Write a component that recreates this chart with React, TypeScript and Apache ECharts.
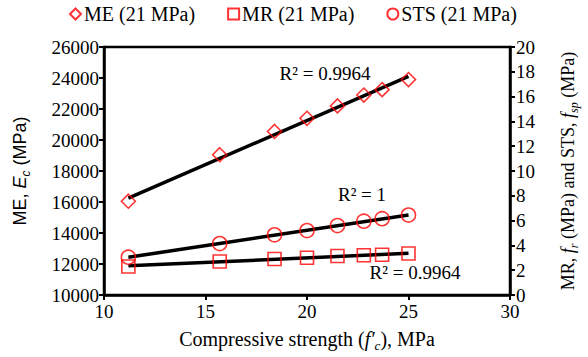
import React, { useEffect, useRef } from "react";
import * as echarts from "echarts";

const fc = [11.2, 15.7, 18.4, 20.0, 21.5, 22.8, 23.7, 25.0];
const me = [16050, 19050, 20550, 21400, 22200, 22900, 23250, 23900];
const mr = [2.3, 2.7, 2.9, 3.0, 3.15, 3.2, 3.25, 3.35];
const sts = [3.05, 4.15, 4.85, 5.2, 5.6, 5.95, 6.15, 6.45];

const trendX = [11.2, 25.0];
const meTrend = [16250, 24100];
const mrTrend = [2.35, 3.36];
const stsTrend = [3.04, 6.45];

const seriesNames = ["ME (21 MPa)", "MR (21 MPa)", "STS (21 MPa)"];
const r2Labels = ["R² = 0.9964", "R² = 1", "R² = 0.9964"];

const SERIF = "Liberation Serif";
const SANS = "Liberation Sans";

export default function App() {
  const ref = useRef<HTMLDivElement>(null);
  useEffect(() => {
    if (!ref.current) return;
    const chart = echarts.init(ref.current, undefined, { renderer: "svg" });
    const markerStyle = {
      color: "rgba(255,255,255,0)",
      borderColor: "#ff0000",
      borderWidth: 1.6,
    };
    const axisCommon = {
      axisLine: { show: true, lineStyle: { color: "#000", width: 2.5 } },
      axisTick: { show: true, length: 5, lineStyle: { color: "#000", width: 2 } },
      splitLine: { show: false },
      axisLabel: {
        color: "#000",
        fontFamily: SERIF,
        fontSize: 19,
        formatter: (v: number) => String(v),
      },
    };
    chart.setOption({
      animation: false,
      backgroundColor: "#fff",
      grid: {
        left: 100,
        right: 68,
        top: 47,
        bottom: 62,
        show: true,
        borderColor: "#000",
        borderWidth: 2.5,
        backgroundColor: "transparent",
      },
      legend: {
        data: seriesNames,
        left: 69,
        top: 4,
        padding: 0,
        itemGap: 32,
        itemWidth: 11,
        itemHeight: 11,
        textStyle: { color: "#000", fontFamily: SERIF, fontSize: 20, padding: [0, 0, 0, -2] },
      },
      xAxis: {
        type: "value",
        min: 10,
        max: 30,
        interval: 5,
        ...axisCommon,
        axisLabel: { ...axisCommon.axisLabel, margin: 7 },
        name: "Compressive strength ({i|f′}{sub|c}), MPa",
        nameLocation: "middle",
        nameGap: 23,
        nameTextStyle: {
          color: "#000",
          fontFamily: SERIF,
          fontSize: 20,
          lineHeight: 26,
          verticalAlign: "top",
          rich: {
            i: { fontFamily: SERIF, fontStyle: "italic", fontSize: 20, lineHeight: 26 },
            sub: { fontFamily: SERIF, fontStyle: "italic", fontSize: 13, lineHeight: 15, verticalAlign: "bottom" },
          },
        },
      },
      yAxis: [
        {
          type: "value",
          min: 10000,
          max: 26000,
          interval: 2000,
          ...axisCommon,
          axisLabel: { ...axisCommon.axisLabel, margin: 5 },
          name: "ME, {i|E}{sub|c} (MPa)",
          nameLocation: "middle",
          nameGap: 72,
          nameTextStyle: {
            color: "#000",
            fontFamily: SANS,
            fontSize: 18,
            lineHeight: 24,
            rich: {
              i: { fontFamily: SANS, fontStyle: "italic", fontSize: 18, lineHeight: 24 },
              sub: { fontFamily: SANS, fontStyle: "italic", fontSize: 12, lineHeight: 14, verticalAlign: "bottom" },
            },
          },
        },
        {
          type: "value",
          min: 0,
          max: 20,
          interval: 2,
          position: "right",
          ...axisCommon,
          axisLabel: { ...axisCommon.axisLabel, margin: 6 },
          name: "MR, {i|f}{sub|r} (MPa) and STS, {i|f}{sub|sp} (MPa)",
          nameLocation: "middle",
          nameGap: 46,
          nameTextStyle: {
            color: "#000",
            fontFamily: SERIF,
            fontSize: 18,
            lineHeight: 24,
            rich: {
              i: { fontFamily: SERIF, fontStyle: "italic", fontSize: 18, lineHeight: 24 },
              sub: { fontFamily: SERIF, fontStyle: "italic", fontSize: 12, lineHeight: 14, verticalAlign: "bottom" },
            },
          },
        },
      ],
      series: [
        {
          name: "trend-me",
          type: "line",
          yAxisIndex: 0,
          data: trendX.map((x, i) => [x, meTrend[i]]),
          symbol: "none",
          lineStyle: { color: "#000", width: 3.5 },
          z: 3,
        },
        {
          name: "trend-mr",
          type: "line",
          yAxisIndex: 1,
          data: trendX.map((x, i) => [x, mrTrend[i]]),
          symbol: "none",
          lineStyle: { color: "#000", width: 3.5 },
          z: 3,
        },
        {
          name: "trend-sts",
          type: "line",
          yAxisIndex: 1,
          data: trendX.map((x, i) => [x, stsTrend[i]]),
          symbol: "none",
          lineStyle: { color: "#000", width: 3.5 },
          z: 3,
        },
        {
          name: seriesNames[0],
          type: "scatter",
          yAxisIndex: 0,
          data: fc.map((x, i) => [x, me[i]]),
          symbol: "diamond",
          symbolSize: 14,
          itemStyle: markerStyle,
          z: 4,
        },
        {
          name: seriesNames[1],
          type: "scatter",
          yAxisIndex: 1,
          data: fc.map((x, i) => [x, mr[i]]),
          symbol: "rect",
          symbolSize: 13,
          itemStyle: markerStyle,
          z: 4,
        },
        {
          name: seriesNames[2],
          type: "scatter",
          yAxisIndex: 1,
          data: fc.map((x, i) => [x, sts[i]]),
          symbol: "circle",
          symbolSize: 14,
          itemStyle: markerStyle,
          z: 4,
        },
      ],
      graphic: [
        { type: "text", x: 325, y: 73, style: { text: r2Labels[0], fill: "#000", font: `19px "${SERIF}"`, align: "center", verticalAlign: "middle" } },
        { type: "text", x: 362, y: 194, style: { text: r2Labels[1], fill: "#000", font: `19px "${SERIF}"`, align: "center", verticalAlign: "middle" } },
        { type: "text", x: 415, y: 272, style: { text: r2Labels[2], fill: "#000", font: `19px "${SERIF}"`, align: "center", verticalAlign: "middle" } },
      ],
    });
    return () => chart.dispose();
  }, []);
  return (
    <div
      ref={ref}
      style={{ position: "fixed", left: 0, top: 0, width: 588, height: 357 }}
    />
  );
}
